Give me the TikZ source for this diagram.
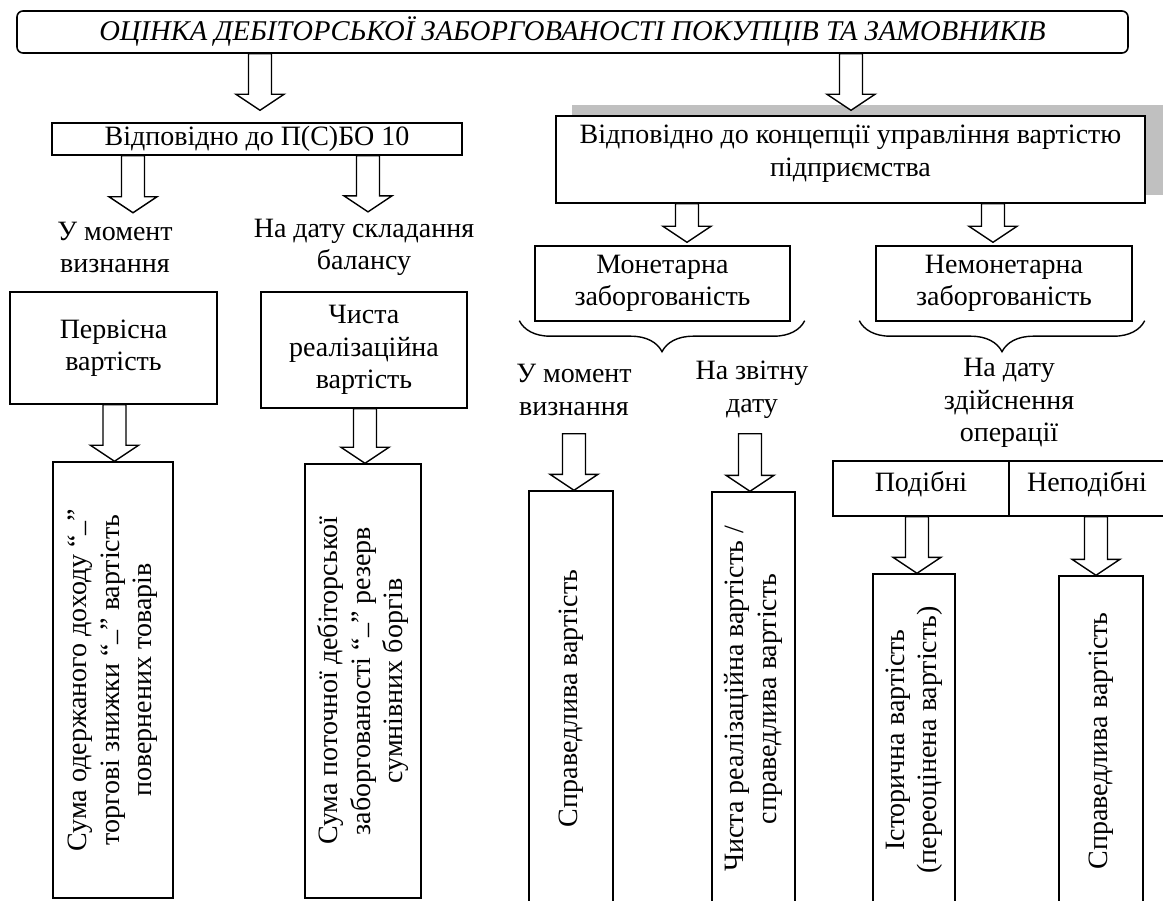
\documentclass[tikz,border=0pt]{standalone}
\usepackage{fontspec}
\setmainfont{Liberation Serif}
\usetikzlibrary{calc,decorations.pathreplacing}
\definecolor{shadowgray}{RGB}{192,192,192}
\newcommand\fs{\fontsize{28}{32.5}\selectfont}
\newcommand\qdash{“\raisebox{-0.2em}{–}”}
\tikzset{
  box/.style={draw, line width=1.4pt, fill=white, inner sep=0pt, align=center, font=\fs},
  lbl/.style={inner sep=0pt, align=center, font=\fs},
  vbox/.style={box, rotate=90},
  barrowstyle/.style={draw, line width=1.4pt, fill=white, line join=miter},
  bracestyle/.style={draw, line width=1.4pt, decorate, decoration={brace, mirror, amplitude=31pt}},
}
\newcommand\barrow[3]{%
  \draw[barrowstyle] let \p1=#2, \p2=#3 in
  (#1pt-11.5pt,\y1) -- (#1pt-11.5pt,\y2+16pt) -- (#1pt-24pt,\y2+16pt) -- (#1pt,\y2)
  -- (#1pt+24pt,\y2+16pt) -- (#1pt+11.5pt,\y2+16pt) -- (#1pt+11.5pt,\y1) -- cycle;}
\begin{document}
\begin{tikzpicture}[x=1pt,y=-1pt]
\useasboundingbox (0,0) rectangle (1163,901);
\fill[white] (0,0) rectangle (1163,901);
% title
\node[box, rounded corners=6pt, line width=1.6pt, minimum width=1111pt, minimum height=42pt, font=\fontsize{28.6}{33}\selectfont\itshape] (title) at (572.5,32) {ОЦІНКА ДЕБІТОРСЬКОЇ ЗАБОРГОВАНОСТІ ПОКУПЦІВ ТА ЗАМОВНИКІВ};
% level 1
\node[box, minimum width=410pt, minimum height=32pt] (pbo) at (257,139) {Відповідно до П(С)БО 10};
\fill[shadowgray] (572,105) rectangle (1163,195);
\node[box, minimum width=589pt, minimum height=87pt, text depth=18pt] (conc) at (850.5,159.5) {Відповідно до концепції управління вартістю\\підприємства};
% left branch
\node[lbl] (l1) at (115,247.5) {У момент\\визнання};
\node[lbl] (l2) at (364,247.5) {На дату складання\\балансу};
\node[box, minimum width=207pt, minimum height=112pt] (perv) at (113.5,348) {Первісна\\вартість};
\node[box, minimum width=206pt, minimum height=116pt] (chy) at (364,350) {Чиста\\реалізаційна\\вартість};
% right branch
\node[box, minimum width=255pt, minimum height=75pt] (mon) at (662.5,283.5) {Монетарна\\заборгованість};
\node[box, minimum width=256pt, minimum height=75pt] (nemon) at (1004,283.5) {Немонетарна\\заборгованість};
\draw[bracestyle] ($(mon.south west)+(-15,-1)$) -- ($(mon.south east)+(14,-1)$);
\draw[bracestyle] ($(nemon.south west)+(-16,-1)$) -- ($(nemon.south east)+(12,-1)$);
\node[lbl] (m1) at (574,390) {У момент\\визнання};
\node[lbl] (m2) at (752,390) {На звітну\\дату};
\node[lbl] (m3) at (1009,403) {На дату\\здійснення\\операції};
\node[box, minimum width=176pt, minimum height=55pt, text depth=14pt] (c1) at (921,488.5) {Подібні};
\node[box, minimum width=156pt, minimum height=55pt, text depth=14pt] (c2) at (1087,488.5) {Неподібні};
% vertical boxes
\node[vbox, minimum width=436pt, minimum height=120pt] (v1) at (113,680) {Сума одержаного доходу \qdash\\торгові знижки \qdash{} вартість\\повернених товарів};
\node[vbox, minimum width=434pt, minimum height=116pt] (v2) at (363,681) {Сума поточної дебіторської\\заборгованості \qdash{} резерв\\сумнівних боргів};
\node[vbox, minimum width=415pt, minimum height=84pt] (v3) at (571,698.5) {Справедлива вартість};
\node[vbox, minimum width=414pt, minimum height=83pt] (v4) at (753.5,699) {Чиста реалізаційна вартість /\\справедлива вартість};
\node[vbox, minimum width=332pt, minimum height=82pt] (v5) at (914,740) {Історична вартість\\(переоцінена вартість)};
\node[vbox, minimum width=330pt, minimum height=84pt] (v6) at (1101,741) {Справедлива вартість};
% arrows
\barrow{260}{(title.south)}{($(pbo.north)+(0,-12)$)}
\barrow{851}{(title.south)}{($(conc.north)+(0,-5)$)}
\barrow{133}{(pbo.south)}{($(l1.north)+(0,-9)$)}
\barrow{368}{(pbo.south)}{($(l2.north)+(0,-7)$)}
\barrow{114.5}{(perv.south)}{(v1.east)}
\barrow{365}{(chy.south)}{(v2.east)}
\barrow{687}{(conc.south)}{($(mon.north)+(0,-3)$)}
\barrow{993}{(conc.south)}{($(nemon.north)+(0,-3)$)}
\barrow{574}{($(m1.south)+(0,18)$)}{(v3.east)}
\barrow{750}{($(m2.south)+(0,15)$)}{(v4.east)}
\barrow{917}{(c1.south)}{(v5.east)}
\barrow{1096}{(c2.south)}{(v6.east)}
\end{tikzpicture}
\end{document}
